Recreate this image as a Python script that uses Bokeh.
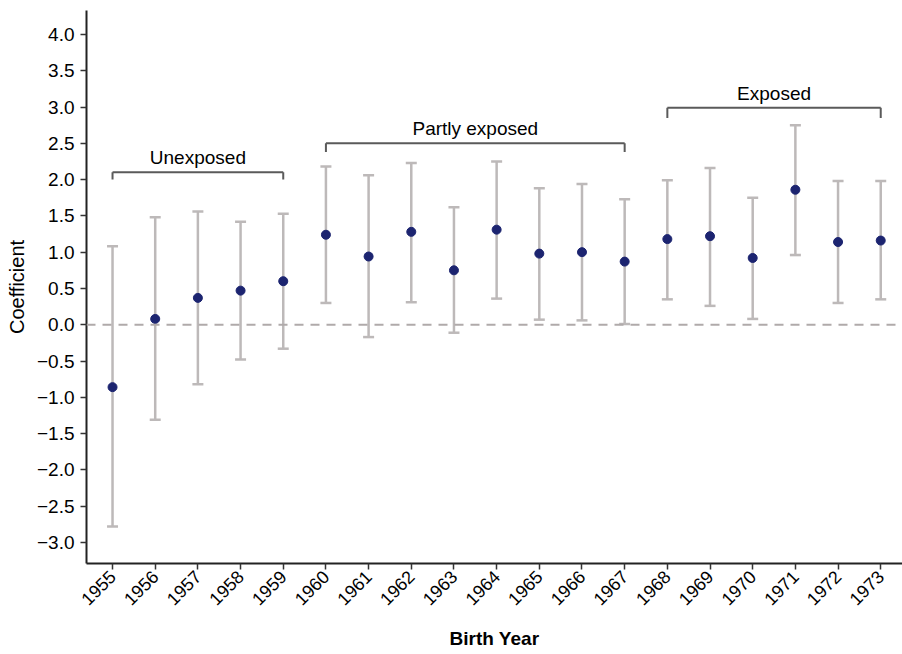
import math
from bokeh.plotting import figure
from bokeh.models import ColumnDataSource, Whisker, Span, FixedTicker, TeeHead, Range1d
from bokeh.core.properties import value
from bokeh.embed import file_html
from bokeh.resources import INLINE

years = list(range(1955, 1974))
coef = [-0.86, 0.08, 0.37, 0.47, 0.60, 1.24, 0.94, 1.28, 0.75, 1.31, 0.98, 1.00, 0.87,
        1.18, 1.22, 0.92, 1.86, 1.14, 1.16]
upper = [1.08, 1.48, 1.56, 1.42, 1.53, 2.18, 2.06, 2.23, 1.62, 2.25, 1.88, 1.94, 1.73,
         1.99, 2.16, 1.75, 2.75, 1.98, 1.98]
lower = [-2.78, -1.31, -0.82, -0.48, -0.33, 0.30, -0.17, 0.31, -0.11, 0.36, 0.07, 0.06, 0.01,
         0.35, 0.26, 0.08, 0.96, 0.30, 0.35]

group_names = ["Unexposed", "Partly exposed", "Exposed"]
group_start = [1955, 1960, 1968]
group_end = [1959, 1967, 1973]
group_level = [2.10, 2.50, 2.99]

y_ticks = [-3.0 + 0.5 * i for i in range(15)]

FONT = "Liberation Sans"

p = figure(width=902, height=654, output_backend="svg", toolbar_location=None,
           x_range=Range1d(1954.39, 1973.51), y_range=Range1d(-3.29, 4.33),
           min_border_left=86, min_border_right=0, min_border_top=10, min_border_bottom=91)
p.outline_line_color = None
p.xgrid.visible = False
p.ygrid.visible = False
p.background_fill_color = "white"

# zero line
p.add_layout(Span(location=0, dimension="width", line_color="#b0aaaa", line_width=2,
                  line_dash="9 7"))

src = ColumnDataSource(dict(x=years, y=coef, up=upper, lo=lower))
w = Whisker(base="x", upper="up", lower="lo", source=src, line_color="#bdb9b9", line_width=2.5,
            upper_head=TeeHead(size=11, line_color="#bdb9b9", line_width=2.5),
            lower_head=TeeHead(size=11, line_color="#bdb9b9", line_width=2.5))
p.add_layout(w)
p.scatter("x", "y", source=src, size=9, fill_color="#1c2470", line_color="#1c2470")

# brackets
tick_drop = [0.10, 0.12, 0.14]
bx0, bx1, by0, by1 = [], [], [], []
for s, e, lv, d in zip(group_start, group_end, group_level, tick_drop):
    bx0 += [s, s, e]
    bx1 += [e, s, e]
    by0 += [lv, lv, lv]
    by1 += [lv, lv - d, lv - d]
p.segment(bx0, by0, bx1, by1, line_color="#5a5a5a", line_width=2)
p.text(x=[(s + e) / 2 for s, e in zip(group_start, group_end)],
       y=[lv + 0.2 for lv in group_level], text=group_names,
       text_font=value(FONT), text_font_size="19px", text_align="center",
       text_baseline="middle", text_color="#000000")

# axes
p.xaxis.ticker = FixedTicker(ticks=years)
p.xaxis.major_label_orientation = math.pi / 4
p.xaxis.axis_label = "Birth Year"
p.xaxis.axis_label_text_font = FONT
p.xaxis.axis_label_text_font_style = "bold"
p.xaxis.axis_label_text_font_size = "19px"
p.xaxis.axis_label_standoff = 14
p.yaxis.ticker = FixedTicker(ticks=y_ticks)
p.yaxis.major_label_overrides = {t: ("%.1f" % t).replace("-", "\u2212") for t in y_ticks}
p.yaxis.axis_label = "Coefficient"
p.yaxis.axis_label_text_font = FONT
p.yaxis.axis_label_text_font_style = "normal"
p.yaxis.axis_label_text_font_size = "20px"
p.yaxis.axis_label_standoff = 6
for ax in (p.xaxis, p.yaxis):
    ax.axis_label_text_color = "#000000"
    ax.major_label_text_font = FONT
    ax.major_label_text_color = "#000000"
    ax.axis_line_color = "#222222"
    ax.axis_line_width = 2
    ax.major_tick_line_color = "#333333"
    ax.major_tick_line_width = 1.5
    ax.major_tick_out = 6
    ax.major_tick_in = 0
    ax.minor_tick_line_color = None
p.yaxis.major_label_text_font_size = "19px"
p.xaxis.major_label_text_font_size = "18px"
p.xaxis.major_label_standoff = 4
p.yaxis.major_label_standoff = 6

open("out.html", "w").write(file_html(p, INLINE))
